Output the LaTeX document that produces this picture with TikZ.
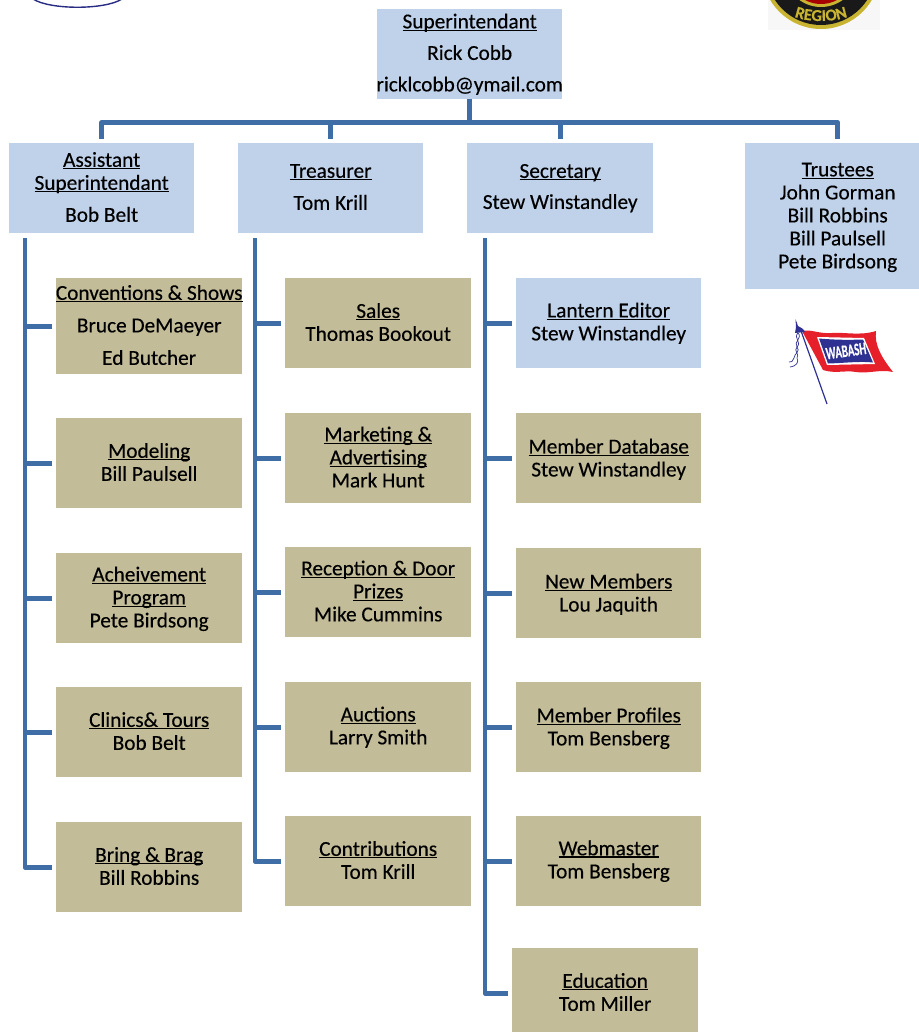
\documentclass[tikz,border=0pt]{standalone}
\usepackage{fontspec}
\setmainfont[FakeBold=0.3]{Carlito}
\newcommand{\uline}[1]{\setbox0=\hbox{#1}\leavevmode\rlap{\rule[-2.6pt]{\wd0}{1.4pt}}\box0 }
\newcommand{\tp}[1]{\rule{0pt}{#1pt}}
\newcommand{\fit}[1]{\makebox[170pt]{#1}}
\usetikzlibrary{calc,decorations.text}
\definecolor{boxblue}{HTML}{C0D2EA}
\definecolor{boxtan}{HTML}{C3BC99}
\definecolor{conn}{HTML}{3F6EA6}
\definecolor{flagred}{HTML}{E6202A}
\definecolor{flagblue}{HTML}{2E3192}
\definecolor{badgegold}{HTML}{C9B431}
\tikzset{
  x=1pt,y=-1pt,
  basebox/.style={inner sep=0pt,align=center,font=\fontsize{21.3}{23}\selectfont,text=black,anchor=north west,execute at end node={\rule[-2.5pt]{0pt}{1pt}}},
  bluebox/.style={basebox,fill=boxblue},
  tanbox/.style={basebox,fill=boxtan},
  dim/.style 2 args={minimum width=#1pt,minimum height=#2pt},
  wire/.style={draw=conn,line width=5pt,line join=round},
  busline/.style={wire,shorten >=4pt},
  railline/.style={wire,line width=4.6pt,shorten >=4pt},
}
\begin{document}
\begin{tikzpicture}
\useasboundingbox (0,0) rectangle (918,1032);
% logos cut by the top edge
\begin{scope}
\clip (0,0) rectangle (918,1032);
\draw[draw=flagblue!90!black,line width=1.4pt] (33,-1) .. controls (50,10) and (105,10) .. (122,-1);
\fill[black!3] (768,0) rectangle (880,30);
\fill[badgegold] (821,-30) circle[radius=59];
\fill[black!90] (821,-30) circle[radius=55];
\fill[badgegold] (821,-30) circle[radius=37];
\fill[red!65!black] (821,-30) circle[radius=34];
\path[postaction={decorate},decoration={text along path,text align={center},text={|\bfseries\fontsize{16.5}{16.5}\selectfont\color{badgegold}|REGION}}] (786,12) .. controls (800,24) and (842,24) .. (856,12);
\end{scope}
% top
\node[bluebox,dim={185}{90}] (sup) at (377,9) {\uline{Superintendant}\\[8.5pt]Rick Cobb\\[8.5pt]\fit{ricklcobb@ymail.com}};
\node[bluebox,dim={185}{90}] (asst) at (9,143) {\uline{Assistant}\\\uline{Superintendant}\\[9pt]Bob Belt};
\node[bluebox,dim={185}{90}] (tre) at (238,143) {\uline{Treasurer}\\[9pt]Tom Krill};
\node[bluebox,dim={186}{90}] (sec) at (467,143) {\uline{Secretary}\\[8pt]Stew Winstandley};
\node[bluebox,dim={185}{146}] (tru) at (745,143) {\tp{16}\uline{Trustees}\\John Gorman\\Bill Robbins\\Bill Paulsell\\Pete Birdsong};
% column 1
\node[tanbox,dim={186}{96}] (a1) at (56,278) {\fit{\uline{Conventions \& Shows}}\\[9.5pt]Bruce DeMaeyer\\[9.5pt]Ed Butcher};
\node[tanbox,dim={186}{90}] (a2) at (56,418) {\uline{Modeling}\\Bill Paulsell};
\node[tanbox,dim={186}{90}] (a3) at (56,553) {\tp{16}\uline{Acheivement}\\\uline{Program}\\Pete Birdsong};
\node[tanbox,dim={186}{90}] (a4) at (56,687) {\uline{Clinics\& Tours}\\Bob Belt};
\node[tanbox,dim={186}{90}] (a5) at (56,822) {\uline{Bring \& Brag}\\Bill Robbins};
% column 2
\node[tanbox,dim={186}{90}] (b1) at (285,278) {\uline{Sales}\\Thomas Bookout};
\node[tanbox,dim={186}{90}] (b2) at (285,413) {\uline{Marketing \&}\\\uline{Advertising}\\Mark Hunt};
\node[tanbox,dim={186}{90}] (b3) at (285,547) {\uline{Reception \& Door}\\\uline{Prizes}\\Mike Cummins};
\node[tanbox,dim={186}{90}] (b4) at (285,682) {\uline{Auctions}\\Larry Smith};
\node[tanbox,dim={186}{90}] (b5) at (285,816) {\uline{Contributions}\\Tom Krill};
% column 3
\node[bluebox,dim={185}{90}] (c1) at (516,278) {\uline{Lantern Editor}\\Stew Winstandley};
\node[tanbox,dim={185}{90}] (c2) at (516,413) {\tp{17}\uline{Member Database}\\Stew Winstandley};
\node[tanbox,dim={185}{90}] (c3) at (516,548) {\tp{17}\uline{New Members}\\Lou Jaquith};
\node[tanbox,dim={185}{90}] (c4) at (516,682) {\tp{17}\uline{Member Profiles}\\Tom Bensberg};
\node[tanbox,dim={185}{90}] (c5) at (516,816) {\uline{Webmaster}\\Tom Bensberg};
\node[tanbox,dim={186}{90}] (c6) at (512,948) {\uline{Education}\\Tom Miller};
% connectors
\coordinate (hub) at ($(sup.south)+(0,23)$);
\foreach \t in {asst,tre,sec,tru}{
  \draw[busline] (sup.south) -- (hub) -| (\t.north);
}
\coordinate (ra) at (25,238);
\coordinate (rb) at (255,238);
\coordinate (rc) at (485,238);
\foreach \t in {a1,a2,a3,a4,a5}{\draw[railline] (ra) |- (\t.west);}
\foreach \t in {b1,b2,b3,b4,b5}{\draw[railline] (rb) |- (\t.west);}
\foreach \t in {c1,c2,c3,c4,c5,c6}{\draw[railline] (rc) |- (\t.west);}
% Wabash flag
\fill[flagred] (802,331) .. controls (812,329) and (818,334) .. (832,333)
  .. controls (845,332) and (860,336) .. (876,331)
  .. controls (874,345) and (882,358) .. (893,372)
  .. controls (880,369) and (868,374) .. (856,372)
  .. controls (845,370) and (835,374) .. (823,370) -- cycle;
\fill[white] (817,337) -- (864,338) -- (875,364) -- (827,365) -- cycle;
\fill[flagblue] (819,338.5) .. controls (835,340) and (850,340) .. (863,339.5)
  -- (873,362.5) .. controls (860,361) and (845,363) .. (828,363.5) -- cycle;
\node[text=white,font=\bfseries\fontsize{16}{16}\selectfont,rotate=8,xscale=.68,yscale=1.1,inner sep=0pt] (flaglabel) at (846,351) {WABASH};
\draw[flagblue,line width=1.2pt] (800,328) -- (827,404);
\fill[flagblue] (795.5,319) -- (798,326) -- (803,329) -- (805,332) -- (795,333) -- (796,327) -- cycle;
\draw[flagblue,line width=.7pt] (798,333) .. controls (793,338) and (802,342) .. (797,347) .. controls (793,351) and (800,354) .. (797,358) .. controls (799,362) and (797,366) .. (790,367);
\draw[flagblue,line width=.7pt] (798,333) .. controls (803,338) and (793,342) .. (797,347) .. controls (801,351) and (794,354) .. (794,358) .. controls (792,361) and (792,363) .. (789,362);
\end{tikzpicture}
\end{document}
